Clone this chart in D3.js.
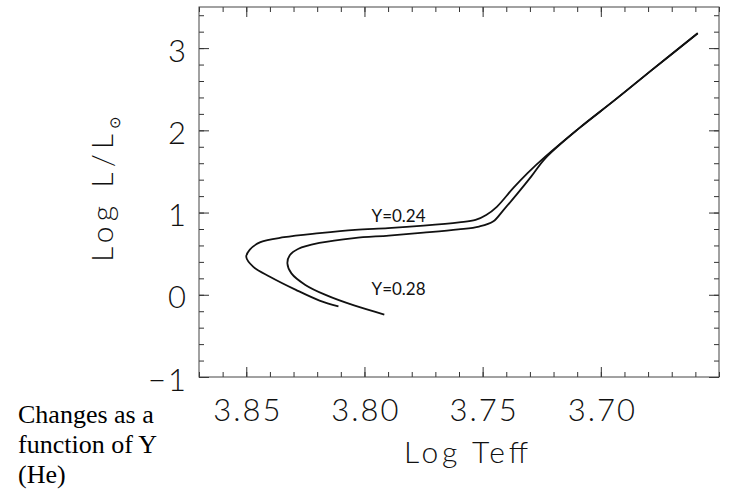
<!DOCTYPE html>
<html>
<head>
  <meta charset="utf-8">
  <title>HR diagram vs Y</title>
  <script src="https://cdn.jsdelivr.net/npm/d3@7"></script>
  <style>
    body { margin: 0; background: #fff; }
    svg { display: block; }
    .tick text { font-family: Lato, "DejaVu Sans", sans-serif; font-weight: 300; fill: #111; letter-spacing: 2px; }
    .tick line { stroke: #333; stroke-width: 1; }
  </style>
</head>
<body>
<svg id="chart" width="729" height="492"></svg>
<script>
  // tracks (log Teff, log L/Lsun)
  var teff24 = [3.811, 3.819, 3.829, 3.840, 3.847, 3.850, 3.8485, 3.844, 3.834, 3.819, 3.804, 3.790,
                3.775, 3.760, 3.753, 3.7485, 3.744, 3.737, 3.731, 3.7235, 3.709, 3.694, 3.679, 3.659];
  var lum24  = [-0.14, -0.07, 0.06, 0.22, 0.34, 0.46, 0.55, 0.64, 0.70, 0.75, 0.79, 0.81,
                0.84, 0.88, 0.91, 0.97, 1.07, 1.30, 1.48, 1.68, 2.03, 2.37, 2.72, 3.18];

  var teff28 = [3.7916, 3.8044, 3.8162, 3.825, 3.8309, 3.8326, 3.8316, 3.8279, 3.8191, 3.8044, 3.7897,
                3.775, 3.7603, 3.7515, 3.7456, 3.7412, 3.7353, 3.7294, 3.7235, 3.709, 3.694, 3.679, 3.659];
  var lum28  = [-0.24, -0.13, -0.005, 0.12, 0.26, 0.38, 0.48, 0.56, 0.63, 0.69, 0.72,
                0.755, 0.795, 0.83, 0.89, 1.03, 1.23, 1.44, 1.66, 2.03, 2.37, 2.72, 3.18];

  var trackLabels = ["Y=0.24", "Y=0.28"];
  var labelPos = [[3.797, 0.887], [3.797, -0.004]];   // label anchor, data units

  var xMajor = [3.85, 3.80, 3.75, 3.70];
  var yMajor = [-1, 0, 1, 2, 3];

  var svg = d3.select('#chart');
  var pLeft = 199, pRight = 719, pTop = 7, pBottom = 377;

  var x = d3.scaleLinear().domain([3.87, 3.65]).range([pLeft, pRight]);
  var y = d3.scaleLinear().domain([-1, 3.5]).range([pBottom, pTop]);

  var xMinor = d3.range(3.65, 3.8701, 0.01).map(function(d) { return +d.toFixed(2); });
  var yMinor = d3.range(-1, 3.5001, 0.2).map(function(d) { return +d.toFixed(1); });

  // minor ticks on all four sides
  svg.append('g').attr('transform', 'translate(0,' + pBottom + ')')
    .call(d3.axisBottom(x).tickValues(xMinor).tickSize(-5).tickFormat(''));
  svg.append('g').attr('transform', 'translate(0,' + pTop + ')')
    .call(d3.axisTop(x).tickValues(xMinor).tickSize(-5).tickFormat(''));
  svg.append('g').attr('transform', 'translate(' + pLeft + ',0)')
    .call(d3.axisLeft(y).tickValues(yMinor).tickSize(-5).tickFormat(''));
  svg.append('g').attr('transform', 'translate(' + pRight + ',0)')
    .call(d3.axisRight(y).tickValues(yMinor).tickSize(-5).tickFormat(''));

  // major ticks + labels
  svg.append('g').attr('transform', 'translate(0,' + pBottom + ')')
    .call(d3.axisBottom(x).tickValues(xMajor).tickSize(-10).tickPadding(22).tickFormat(d3.format('.2f')))
    .selectAll('text').style('font-size', '31px').attr('dx', 1);
  svg.append('g').attr('transform', 'translate(0,' + pTop + ')')
    .call(d3.axisTop(x).tickValues(xMajor).tickSize(-10).tickFormat(''));
  svg.append('g').attr('transform', 'translate(' + pLeft + ',0)')
    .call(d3.axisLeft(y).tickValues(yMajor).tickSize(-10).tickPadding(11).tickFormat(d3.format('d')))
    .selectAll('text').style('font-size', '31px').attr('dy', '0.42em');
  svg.append('g').attr('transform', 'translate(' + pRight + ',0)')
    .call(d3.axisRight(y).tickValues(yMajor).tickSize(-10).tickFormat(''));

  svg.selectAll('.domain').remove();

  svg.append('rect')
    .attr('x', pLeft).attr('y', pTop)
    .attr('width', pRight - pLeft).attr('height', pBottom - pTop)
    .attr('fill', 'none').attr('stroke', '#444').attr('stroke-width', 1);

  var line = d3.line()
    .x(function(d) { return x(d[0]); })
    .y(function(d) { return y(d[1]); })
    .curve(d3.curveCatmullRom.alpha(0.5));

  var tracks = [d3.zip(teff24, lum24), d3.zip(teff28, lum28)];

  svg.selectAll('path.track')
    .data(tracks)
    .enter()
    .append('path')
    .attr('class', 'track')
    .attr('d', line)
    .attr('fill', 'none')
    .attr('stroke', '#111')
    .attr('stroke-width', 1.8);

  svg.selectAll('text.lab')
    .data(trackLabels)
    .enter()
    .append('text')
    .attr('class', 'lab')
    .attr('x', function(d, i) { return x(labelPos[i][0]); })
    .attr('y', function(d, i) { return y(labelPos[i][1]); })
    .style('font-family', 'Lato, "DejaVu Sans", sans-serif')
    .style('font-size', '17px')
    .attr('fill', '#111')
    .text(function(d) { return d; });

  // axis titles
  svg.append('text')
    .attr('x', 466).attr('y', 463)
    .attr('text-anchor', 'middle')
    .attr('textLength', 124).attr('lengthAdjust', 'spacing')
    .style('font-family', 'Lato, "DejaVu Sans", sans-serif')
    .style('font-weight', 300)
    .style('font-size', '30px')
    .attr('fill', '#111')
    .text('Log Teff');

  var ylab = svg.append('text')
    .attr('transform', 'translate(113,262) rotate(-90)')
    .style('font-family', 'Lato, "DejaVu Sans", sans-serif')
    .style('font-weight', 300)
    .style('font-size', '30px')
    .attr('fill', '#111');
  ylab.append('tspan').attr('textLength', 128).attr('lengthAdjust', 'spacing').text('Log L/L');
  ylab.append('tspan').attr('dy', 7).style('font-size', '15px').text('\u2299');

  // caption at the lower left
  var caption = ['Changes as a', 'function of Y', '(He)'];
  svg.selectAll('text.cap')
    .data(caption)
    .enter()
    .append('text')
    .attr('class', 'cap')
    .attr('x', 18)
    .attr('y', function(d, i) { return 423 + i * 30; })
    .style('font-family', '"Liberation Serif", "Times New Roman", serif')
    .style('font-size', '26px')
    .attr('fill', '#000')
    .text(function(d) { return d; });
</script>
</body>
</html>
